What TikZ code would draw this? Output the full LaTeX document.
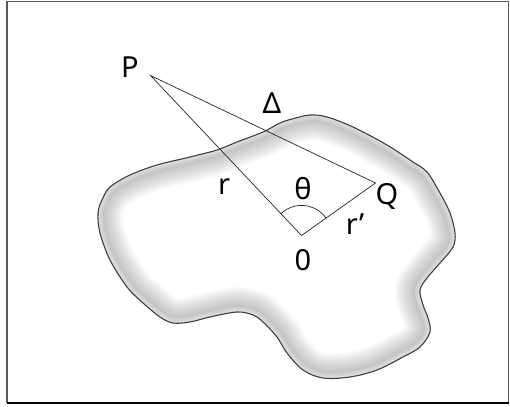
\documentclass[tikz,border=0pt]{standalone}
\usepackage{fontspec}
\setmainfont{Noto Sans}
\usetikzlibrary{calc}
\begin{document}
\begin{tikzpicture}[x=1pt,y=-1pt,
  lbl/.style={inner sep=0pt,font=\fontsize{29}{32}\selectfont},
  thin line/.style={line width=0.7pt,draw=black!85}]
\useasboundingbox (0,0) rectangle (510,406);
% frame
\draw[line width=1.2pt,draw=black!65] (7,403) -- (7,1.5) -- (508.5,1.5) -- (508.5,403);
\draw[line width=1.2pt,draw=black] (7,403) -- (508.5,403);
% blob
\def\blob{plot[smooth cycle,tension=0.55] coordinates {(98,213) (102,200) (110,187) (130,175) (157,165) (190,157) (217,150) (237,142) (263,132) (280,123) (292,119) (310,115) (327,117) (353,127) (387,145) (413,162) (427,172) (440,193) (450,213) (455,233) (453,247) (440,263) (427,278) (420,290) (423,305) (428,318) (430,332) (420,347) (403,357) (377,370) (350,377) (323,378) (303,370) (287,353) (277,337) (263,322) (253,315) (237,312) (210,317) (190,322) (173,323) (160,317) (143,303) (127,287) (110,260) (100,233)}}
\begin{scope}
  \clip \blob;
  \foreach \w in {50,47,...,14} {
    \draw[line width=\w pt,draw=black,draw opacity=0.018,line join=round] \blob;
  }
  \foreach \w in {10,7,4} {
    \draw[line width=\w pt,draw=white,draw opacity=0.15,line join=round] \blob;
  }
\end{scope}
\draw[line width=1.1pt,draw=black!75] \blob;
% points
\coordinate (P) at (150.5,75.5);
\coordinate (Q) at (375.5,183);
\coordinate (O) at (301.5,235.5);
\draw[thin line] (P) -- (O) -- (Q) -- cycle;
\draw[thin line] ($(O)!30pt!(P)$) arc[start angle=133.6, end angle=34.7, radius=30pt];
% labels
\node[lbl] (lP) at (130,67) {P};
\node[lbl] (lD) at (272,103) {Δ};
\node[lbl] (lr) at (224,187) {r};
\node[lbl] (lt) at (303,189) {θ};
\node[lbl] (lQ) at (387,196) {Q};
\node[lbl] (lr2) at (355,224) {r’};
\node[lbl] (lO) at (303,260) {0};
\end{tikzpicture}
\end{document}
